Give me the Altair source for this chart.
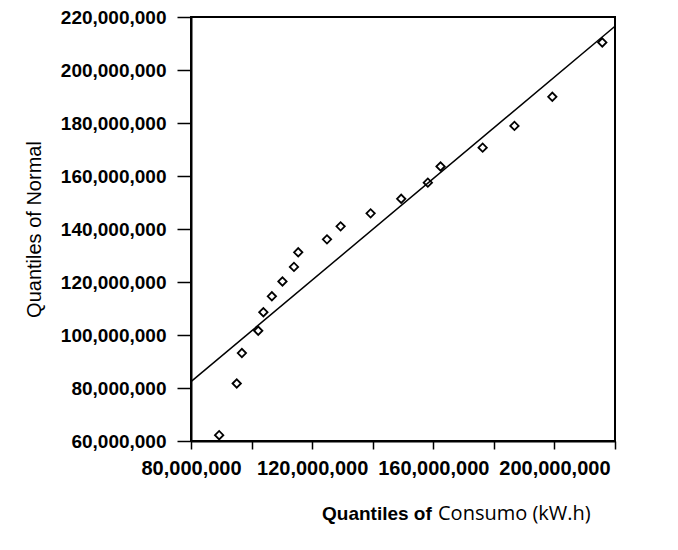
import altair as alt
import pandas as pd

# Quantiles of Consumo (kW.h) vs Quantiles of Normal
consumo_q = [89.3, 95.1, 96.8, 102.2, 103.9, 106.7, 110.2, 114.0, 115.4, 124.9,
             129.4, 139.3, 149.4, 158.2, 162.4, 176.3, 186.8, 199.3, 215.8]
normal_q = [62.2, 81.7, 93.2, 101.6, 108.6, 114.6, 120.2, 125.7, 131.2, 136.1,
            141.0, 145.9, 151.4, 157.5, 163.6, 170.7, 178.9, 189.9, 210.4]
# reference line endpoints (millions)
line_x = [80.0, 220.0]
line_y = [82.4, 216.5]

x_ticks = [80, 100, 120, 140, 160, 180, 200, 220]
y_ticks = [60, 80, 100, 120, 140, 160, 180, 200, 220]

M = 1_000_000
pts = pd.DataFrame({"x": [v * M for v in consumo_q], "y": [v * M for v in normal_q]})
ln = pd.DataFrame({"x": [v * M for v in line_x], "y": [v * M for v in line_y]})

xscale = alt.Scale(domain=[80 * M, 220 * M], nice=False, zero=False)
yscale = alt.Scale(domain=[60 * M, 220 * M], nice=False, zero=False)

xaxis = alt.Axis(
    title=None,
    values=[v * M for v in x_ticks],
    labelExpr="datum.value % 40000000 == 0 ? format(datum.value, ',') : ''",
    labelFont="Liberation Sans", labelFontSize=20, labelFontWeight="bold",
    labelColor="black", labelFlush=False, labelOverlap=False,
    tickSize=8, tickWidth=1.5, tickColor="black", labelPadding=9,
    domainColor="black", domainWidth=2, grid=False,
)
yaxis = alt.Axis(
    title="Quantiles of Normal",
    values=[v * M for v in y_ticks],
    labelExpr="format(datum.value, ',')",
    labelFont="Liberation Sans", labelFontSize=19, labelFontWeight="bold",
    labelColor="black", labelFlush=False, labelOverlap=False,
    tickSize=14, tickWidth=1.5, tickColor="black", labelPadding=11,
    domainColor="black", domainWidth=2, grid=False,
    titleFont="Liberation Sans", titleFontSize=20, titleFontWeight="normal",
    titleColor="black", titlePadding=16,
)

points = alt.Chart(pts).mark_point(
    shape="diamond", filled=False, color="black", size=70, strokeWidth=1.8,
    opacity=1
).encode(
    x=alt.X("x:Q", scale=xscale, axis=xaxis),
    y=alt.Y("y:Q", scale=yscale, axis=yaxis),
)

line = alt.Chart(ln).mark_line(color="black", strokeWidth=1.5).encode(
    x=alt.X("x:Q", scale=xscale, axis=xaxis),
    y=alt.Y("y:Q", scale=yscale, axis=yaxis),
)

t1 = alt.Chart(alt.Data(values=[{}])).mark_text(
    text="Quantiles of", font="Liberation Sans", fontSize=19, fontWeight="bold",
    align="left", baseline="alphabetic", color="black"
).encode(x=alt.value(131), y=alt.value(503))

t2 = alt.Chart(alt.Data(values=[{}])).mark_text(
    text="Consumo (kW.h)", font="Open Sans", fontSize=20, fontWeight="normal",
    align="left", baseline="alphabetic", color="black"
).encode(x=alt.value(247), y=alt.value(503))

chart = alt.layer(points, line, t1, t2).properties(
    width=424, height=424,
    autosize=alt.AutoSizeParams(type="none"),
    padding={"left": 183, "top": 9, "right": 40, "bottom": 100},
    background="white",
).configure_view(stroke="black", strokeWidth=2)

chart.save("out.html", embed_options={"renderer": "svg", "actions": False})
